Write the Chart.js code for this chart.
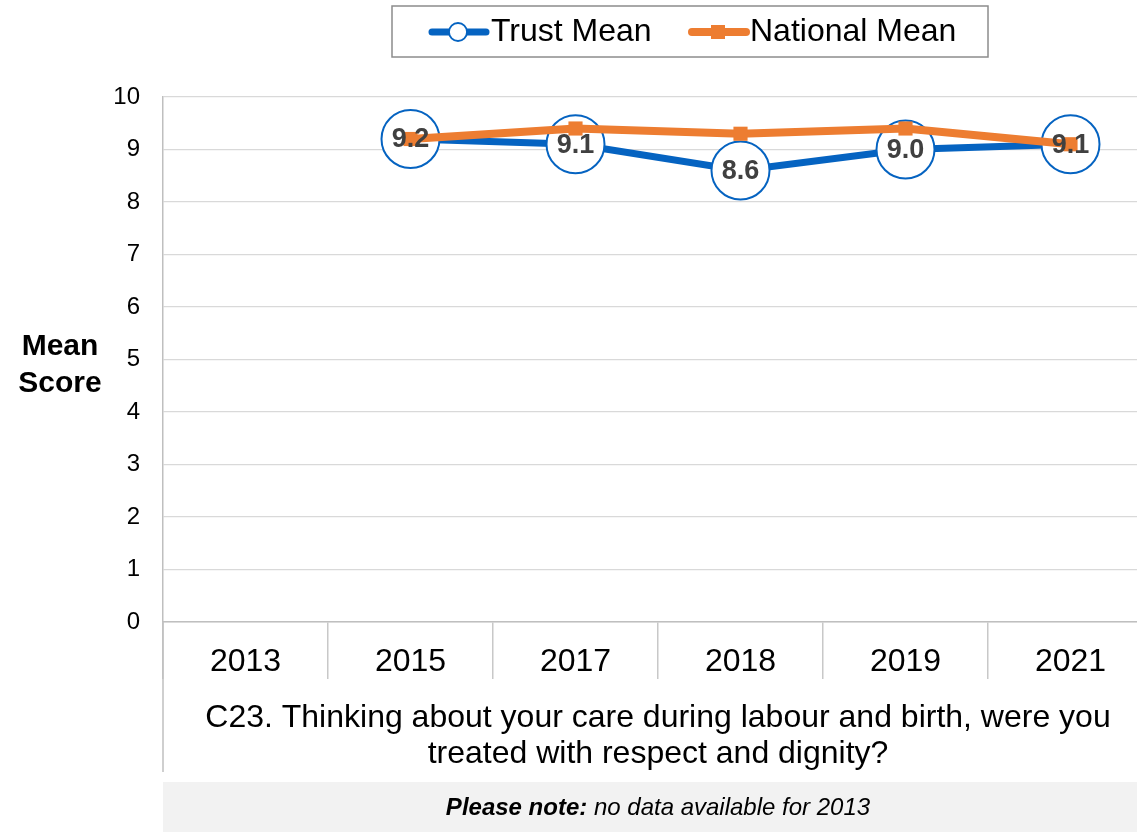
<!DOCTYPE html>
<html>
<head>
<meta charset="utf-8">
<title>C23 Mean Score</title>
<script src="https://cdn.jsdelivr.net/npm/chart.js@4/dist/chart.umd.min.js"></script>
<style>
  html, body { margin: 0; padding: 0; background: #fff; overflow: hidden; width: 1137px; height: 832px; }
  #wrap { width: 1137px; height: 832px; overflow: hidden; position: relative; }
  canvas { display: block; }
</style>
</head>
<body>
<div id="wrap"><canvas id="c" width="1153" height="832"></canvas></div>
<script>
// Survey years and scores
const years = ['2013', '2015', '2017', '2018', '2019', '2021'];
const trustMean = [null, 9.2, 9.1, 8.6, 9.0, 9.1];
const nationalMean = [null, 9.2, 9.4, 9.3, 9.4, 9.1];
const yTicks = [0, 1, 2, 3, 4, 5, 6, 7, 8, 9, 10];

const seriesNames = ['Trust Mean', 'National Mean'];
const questionLines = [
  'C23. Thinking about your care during labour and birth, were you',
  'treated with respect and dignity?'
];
const yTitleLines = ['Mean', 'Score'];
const noteBold = 'Please note:';
const noteText = ' no data available for 2013';

const FONT = '"Liberation Sans", Arial, Helvetica, sans-serif';
const BLUE = '#0563c1';
const ORANGE = '#ed7d31';

// Value labels centred inside the Trust circles
const valueLabels = {
  id: 'valueLabels',
  afterDatasetsDraw(chart) {
    const ctx = chart.ctx;
    const meta = chart.getDatasetMeta(0);
    ctx.save();
    ctx.font = 'bold 27px ' + FONT;
    ctx.fillStyle = '#404040';
    ctx.textAlign = 'center';
    ctx.textBaseline = 'middle';
    meta.data.forEach((pt, i) => {
      const v = trustMean[i];
      if (v === null || v === undefined) return;
      ctx.fillText(v.toFixed(1), pt.x, pt.y + 1);
    });
    ctx.restore();
  }
};

// Boxed legend, axis titles and footnote
const decorations = {
  id: 'decorations',
  beforeDraw(chart) {
    const ctx = chart.ctx;
    ctx.save();
    ctx.fillStyle = '#fff';
    ctx.fillRect(0, 0, chart.width, chart.height);
    ctx.restore();
  },
  afterDraw(chart) {
    const ctx = chart.ctx;
    const area = chart.chartArea;
    const cx = (area.left + area.right) / 2;
    ctx.save();

    // left axis continues down beside the question text
    ctx.strokeStyle = '#bfbfbf';
    ctx.lineWidth = 1.5;
    ctx.beginPath();
    ctx.moveTo(area.left, area.bottom);
    ctx.lineTo(area.left, 772);
    ctx.stroke();

    // legend box
    ctx.fillStyle = '#fff';
    ctx.strokeStyle = '#8c8c8c';
    ctx.lineWidth = 1.5;
    ctx.fillRect(392, 6, 596, 51);
    ctx.strokeRect(392, 6, 596, 51);

    ctx.lineCap = 'round';
    // Trust Mean sample
    ctx.strokeStyle = BLUE;
    ctx.lineWidth = 7;
    ctx.beginPath(); ctx.moveTo(432, 32); ctx.lineTo(486, 32); ctx.stroke();
    ctx.fillStyle = '#fff';
    ctx.lineWidth = 1.8;
    ctx.beginPath(); ctx.arc(458, 32, 9, 0, Math.PI * 2); ctx.fill(); ctx.stroke();
    // National Mean sample
    ctx.strokeStyle = ORANGE;
    ctx.lineWidth = 8;
    ctx.beginPath(); ctx.moveTo(692, 32); ctx.lineTo(746, 32); ctx.stroke();
    ctx.fillStyle = ORANGE;
    ctx.fillRect(711, 25, 14, 14);

    ctx.fillStyle = '#000';
    ctx.font = '32px ' + FONT;
    ctx.textAlign = 'left';
    ctx.textBaseline = 'middle';
    ctx.fillText(seriesNames[0], 491, 32);
    ctx.fillText(seriesNames[1], 750, 32);

    // y axis title
    ctx.font = 'bold 30px ' + FONT;
    ctx.textAlign = 'center';
    ctx.fillText(yTitleLines[0], 60, 347);
    ctx.fillText(yTitleLines[1], 60, 384);

    // question text under the axis
    ctx.font = '32px ' + FONT;
    ctx.fillText(questionLines[0], cx, 718);
    ctx.fillText(questionLines[1], cx, 754);

    // footnote strip
    ctx.fillStyle = '#f2f2f2';
    ctx.fillRect(area.left, 782, chart.width - area.left, 50);
    ctx.font = 'bold italic 24px ' + FONT;
    const wb = ctx.measureText(noteBold).width;
    ctx.font = 'italic 24px ' + FONT;
    const wt = ctx.measureText(noteText).width;
    const x0 = cx - (wb + wt) / 2;
    ctx.fillStyle = '#000';
    ctx.textAlign = 'left';
    ctx.font = 'bold italic 24px ' + FONT;
    ctx.fillText(noteBold, x0, 808);
    ctx.font = 'italic 24px ' + FONT;
    ctx.fillText(noteText, x0 + wb, 808);

    ctx.restore();
  }
};

new Chart(document.getElementById('c'), {
  type: 'line',
  data: {
    labels: years,
    datasets: [
      {
        label: seriesNames[0],
        data: trustMean,
        order: 2,
        borderColor: BLUE,
        borderWidth: 7,
        pointRadius: 29,
        pointHoverRadius: 29,
        pointBorderWidth: 2,
        pointBorderColor: BLUE,
        pointBackgroundColor: '#fff',
        tension: 0,
        clip: false
      },
      {
        label: seriesNames[1],
        data: nationalMean,
        order: 1,
        borderColor: ORANGE,
        borderWidth: 8,
        pointStyle: 'rect',
        pointRadius: 10,
        pointHoverRadius: 10,
        pointBorderWidth: 0,
        pointBackgroundColor: ORANGE,
        pointBorderColor: ORANGE,
        tension: 0,
        clip: false
      }
    ]
  },
  options: {
    responsive: false,
    animation: false,
    devicePixelRatio: 1,
    layout: { autoPadding: false, padding: { top: 97, left: 0, right: 0, bottom: 0 } },
    plugins: {
      legend: { display: false },
      tooltip: { enabled: false },
      title: { display: false }
    },
    scales: {
      x: {
        type: 'category',
        offset: true,
        grid: {
          offset: true,
          drawOnChartArea: false,
          drawTicks: true,
          tickLength: 57,
          color: '#c8c8c8',
          lineWidth: 1.5
        },
        border: { color: '#bfbfbf', width: 1.5 },
        ticks: {
          color: '#000',
          font: { family: FONT, size: 32 },
          padding: -36,
          maxRotation: 0,
          autoSkip: false
        },
        afterFit(scale) { scale.height = 210; scale.paddingLeft = 0; scale.paddingRight = 0; }
      },
      y: {
        min: 0,
        max: 10,
        afterBuildTicks(scale) { scale.ticks = yTicks.map(v => ({ value: v })); },
        grid: { color: '#d9d9d9', lineWidth: 1.3, drawTicks: false },
        border: { color: '#bfbfbf', width: 1.5 },
        ticks: {
          color: '#000',
          font: { family: FONT, size: 24 },
          padding: 23
        },
        afterFit(scale) { scale.width = 163; }
      }
    }
  },
  plugins: [valueLabels, decorations]
});
</script>
</body>
</html>
